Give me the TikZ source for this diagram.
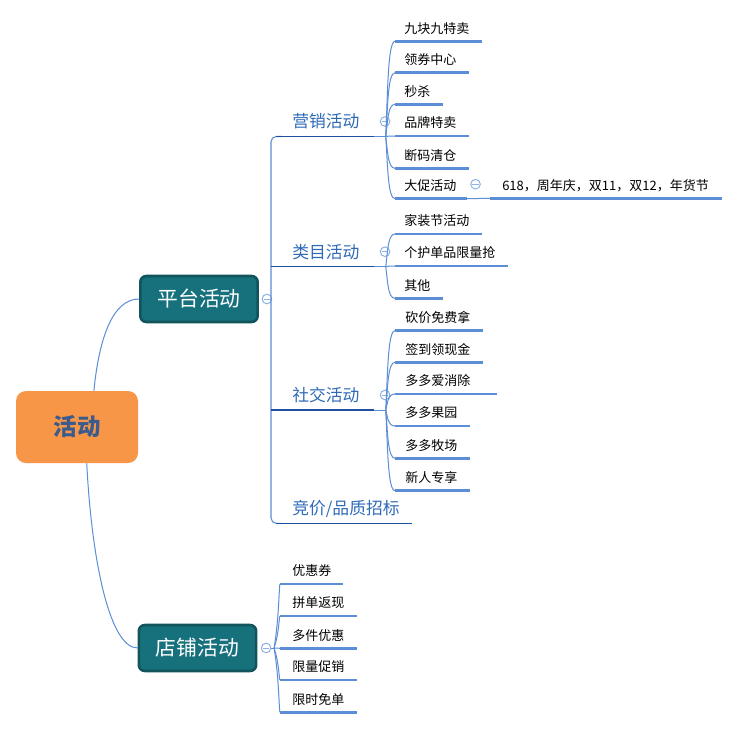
\documentclass[tikz,border=0pt]{standalone}
\usepackage{fontspec}
\setmainfont{Noto Sans CJK SC}
\usetikzlibrary{calc}
\definecolor{lb}{HTML}{5B8ED4}
\definecolor{db}{HTML}{1F4FA0}
\definecolor{bt}{HTML}{2E6AB8}
\definecolor{cc}{HTML}{8DB2E3}
\definecolor{boxfill}{HTML}{17717D}
\definecolor{boxline}{HTML}{11545C}
\definecolor{rootfill}{HTML}{F79646}
\definecolor{roottext}{HTML}{3B5B8C}
\newcommand\leafnode[6]{%
  \node[leaf] (#1) at (#2,#3) {#4};
  \coordinate (#1-s) at ([shift={(-#5,13)}]#1.west);
  \coordinate (#1-e) at ([shift={(#6,13)}]#1.east);
  \draw[uline] (#1-s) -- (#1-e);}
\newcommand\branchto[3]{\draw[conn] (#1) .. controls ($(#1)!0.45!(#1|-#2)+(#3,0)$) and ($(#1|-#2)+(#3,0)$) .. (#2);}
\begin{document}
\begin{tikzpicture}[x=0.75pt,y=-0.75pt,
  conn/.style={draw=lb,line width=0.75pt},
  uline/.style={draw=lb,line width=2.1pt},
  bline/.style={draw=db,line width=1.1pt},
  trunk/.style={draw=lb,line width=0.8pt},
  leaf/.style={inner sep=0pt,anchor=west,font=\fontsize{9.75pt}{11pt}\selectfont,text height=8.6pt,text depth=1.2pt},
  branch/.style={inner sep=0pt,anchor=west,text=bt,font=\fontsize{12.6pt}{14pt}\selectfont,text height=11.1pt,text depth=1.5pt},
  mainbox/.style={draw=boxline,fill=boxfill,line width=1.9pt,rounded corners=4.5pt,minimum width=88pt,minimum height=34.5pt,inner sep=0pt,text=white,font=\fontsize{15.6pt}{17pt}\selectfont},
  rootbox/.style={fill=rootfill,rounded corners=7.5pt,minimum width=91.5pt,minimum height=54pt,inner sep=0pt,text=roottext,font=\fontsize{17.6pt}{19pt}\selectfont\bfseries},
  collapse/.style={circle,draw=cc,fill=white,line width=0.75pt,minimum size=7.2pt,inner sep=0pt,
    path picture={\draw[cc,line width=0.75pt] ([xshift=-2.4pt]path picture bounding box.center) -- ([xshift=2.4pt]path picture bounding box.center);}}
]
\fill[white] (0,0) rectangle (746,729);
\useasboundingbox (0,0) rectangle (746,729);

% root and main boxes
\node[rootbox] (root) at (77,427) {活动};
\node[mainbox] (pt) at (199,299) {平台活动};
\node[mainbox] (dp) at (197.5,648) {店铺活动};
\draw[conn] (root.65) .. controls +(5,-51) and +(-27,0) .. (pt.west);
\draw[conn] (root.-75) .. controls +(5,97) and +(-28,0) .. (dp.west);
\node[collapse] (ptc) at ([xshift=6]pt.east) {};
\node[collapse] (dpc) at ([xshift=6.5]dp.east) {};

% branches of platform
\node[branch] (yx) at (292,121.5) {营销活动};
\node[branch] (lm) at (292,251.7) {类目活动};
\node[branch] (sj) at (292,395) {社交活动};
\node[branch] (jj) at (292,508.3) {竞价/品质招标};
\foreach \b in {yx,lm,sj,jj}{
  \coordinate (\b-s) at ([shift={(-21,15)}]\b.west);
}
\foreach \b in {yx,lm,sj}{
  \coordinate (\b-e) at ([shift={(14,15)}]\b.east);
  \coordinate (\b-j) at ([shift={(26,15)}]\b.east);
  \node[collapse] (\b-c) at ([xshift=19]\b.east) {};
}
\coordinate (jj-e) at ([shift={(12,15)}]jj.east);
\draw[trunk,rounded corners=4pt] ([xshift=8]yx-s) -- (yx-s) -- (jj-s) -- ([xshift=8]jj-s);
\draw[conn] (ptc.east) -- (ptc.east -| yx-s);
\draw[bline] ([xshift=4]yx-s) -- (yx-e);
\draw[bline] (lm-s) -- (lm-e);
\draw[bline] (sj-s) -- (sj-e);
\draw[bline] ([xshift=4]jj-s) -- (jj-e);
\foreach \b in {yx,lm,sj}{ \draw[conn] (\b-e) -- (\b-j); }

% marketing leaves
\leafnode{jk}{404}{28.3}{九块九特卖}{9}{12}
\leafnode{lq}{404}{59.7}{领券中心}{9}{12}
\leafnode{ms}{404}{91.3}{秒杀}{9}{12}
\leafnode{pp}{404}{123}{品牌特卖}{9}{12}
\leafnode{dm}{404}{155.3}{断码清仓}{9}{12}
\leafnode{dc}{404}{185.7}{大促活动}{9}{10}
\node[collapse] (dcc) at ([shift={(19,-1.5)}]dc.east) {};
\leafnode{gx}{502}{185.3}{618，周年庆，双11，双12，年货节}{12}{13}
\draw[conn] (dc-e) -- (gx-s);
\foreach \c in {jk,lq,ms,pp,dm,dc}{ \branchto{yx-j}{\c-s}{2} }

% category leaves
\leafnode{jz}{404}{221}{家装节活动}{9}{12}
\leafnode{gh}{404}{253}{个护单品限量抢}{9}{12}
\leafnode{qt}{404}{285.3}{其他}{9}{12}
\foreach \c in {jz,gh,qt}{ \branchto{lm-j}{\c-s}{2} }

% social leaves
\leafnode{kj}{405}{317.7}{砍价免费拿}{10}{12}
\leafnode{qd}{405}{349.3}{签到领现金}{10}{12}
\leafnode{xc}{405}{381}{多多爱消除}{10}{26}
\leafnode{gy}{405}{413}{多多果园}{10}{12}
\leafnode{mc}{405}{445.3}{多多牧场}{10}{12}
\leafnode{xr}{405}{477.7}{新人专享}{10}{12}
\foreach \c in {kj,qd,xc,gy,mc,xr}{ \branchto{sj-j}{\c-s}{2} }

% store leaves
\leafnode{yh}{292}{571}{优惠券}{12}{11}
\leafnode{pd}{292}{603}{拼单返现}{12}{12}
\leafnode{dj}{292}{635.3}{多件优惠}{12}{12}
\leafnode{xl}{292}{667}{限量促销}{12}{12}
\leafnode{xs}{292}{699.3}{限时免单}{12}{12}
\coordinate (dpj) at ([xshift=2]dpc.east);
\draw[conn] (dpc.east) -- (dpj);
\foreach \c in {yh,pd,dj,xl,xs}{ \branchto{dpj}{\c-s}{5} }
\end{tikzpicture}
\end{document}
